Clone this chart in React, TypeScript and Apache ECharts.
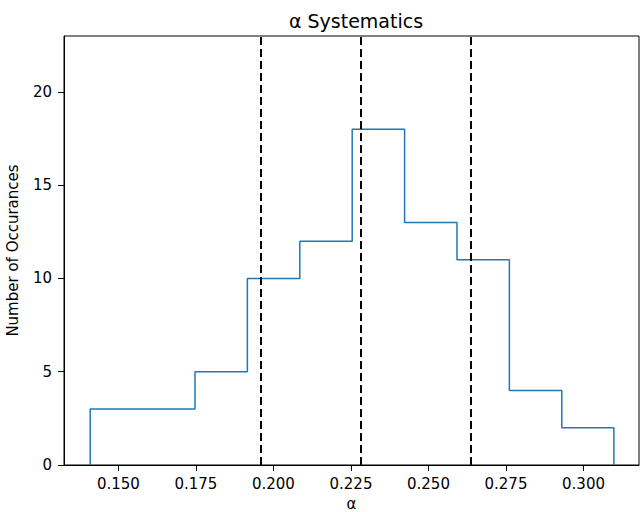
import React, { useEffect, useRef } from "react";
import * as echarts from "echarts";

const binEdges = [0.1409, 0.1578, 0.1747, 0.1916, 0.2085, 0.2254, 0.2423, 0.2592, 0.2761, 0.293, 0.3098];
const counts = [3, 3, 5, 10, 12, 18, 13, 11, 4, 2];
const refLines = [0.1958, 0.2283, 0.2635];
const xTicks = [0.15, 0.175, 0.2, 0.225, 0.25, 0.275, 0.3];
const yTicks = [0, 5, 10, 15, 20];

const FONT = "DejaVu Sans";

export default function App() {
  const ref = useRef<HTMLDivElement>(null);
  useEffect(() => {
    if (!ref.current) return;
    const chart = echarts.init(ref.current, null, { renderer: "svg" });
    const pts: number[][] = [[binEdges[0], 0]];
    counts.forEach((c, i) => {
      pts.push([binEdges[i], c]);
      pts.push([binEdges[i + 1], c]);
    });
    pts.push([binEdges[binEdges.length - 1], 0]);

    chart.setOption({
      animation: false,
      backgroundColor: "#ffffff",
      title: {
        text: "α Systematics",
        left: 351,
        textAlign: "center",
        top: 6,
        textStyle: { fontFamily: FONT, fontSize: 19, fontWeight: "normal", color: "#000" },
      },
      grid: {
        left: 64,
        right: 2,
        top: 36,
        bottom: 47,
        show: true,
        borderColor: "#000",
        borderWidth: 1,
        containLabel: false,
        outerBoundsMode: "none",
      },
      xAxis: {
        type: "value",
        min: 0.13245,
        max: 0.3179,
        name: "α",
        nameLocation: "middle",
        nameGap: 31,
        nameTextStyle: { fontFamily: FONT, fontSize: 15, lineHeight: 15, color: "#000" },
        splitLine: { show: false },
        axisLine: { show: true, onZero: false, lineStyle: { color: "#000", width: 1 } },
        axisTick: { show: true, inside: false, length: 6, customValues: xTicks, lineStyle: { color: "#000" } },
        axisLabel: {
          customValues: xTicks,
          formatter: (v: number) => v.toFixed(3),
          fontFamily: FONT,
          fontSize: 15,
          color: "#000",
          margin: 11,
        },
      },
      yAxis: {
        type: "value",
        min: 0,
        max: 23,
        name: "Number of Occurances",
        nameLocation: "middle",
        nameGap: 44,
        nameTextStyle: { fontFamily: FONT, fontSize: 15, color: "#000" },
        splitLine: { show: false },
        axisLine: { show: true, lineStyle: { color: "#000", width: 1 } },
        axisTick: { show: true, inside: false, length: 6, customValues: yTicks, lineStyle: { color: "#000" } },
        axisLabel: {
          customValues: yTicks,
          fontFamily: FONT,
          fontSize: 15,
          color: "#000",
          margin: 12,
        },
      },
      series: [
        {
          type: "line",
          data: pts,
          showSymbol: false,
          symbol: "none",
          lineStyle: { color: "#1f77b4", width: 1.5 },
          markLine: {
            silent: true,
            symbol: "none",
            precision: 6,
            label: { show: false },
            lineStyle: { color: "#000", width: 2, type: [8, 4] },
            data: refLines.map((x) => ({ xAxis: x })),
          },
        },
      ],
    });
    return () => chart.dispose();
  }, []);
  return (
    <div
      ref={ref}
      style={{ position: "fixed", left: 0, top: 0, width: 641, height: 512 }}
    />
  );
}
